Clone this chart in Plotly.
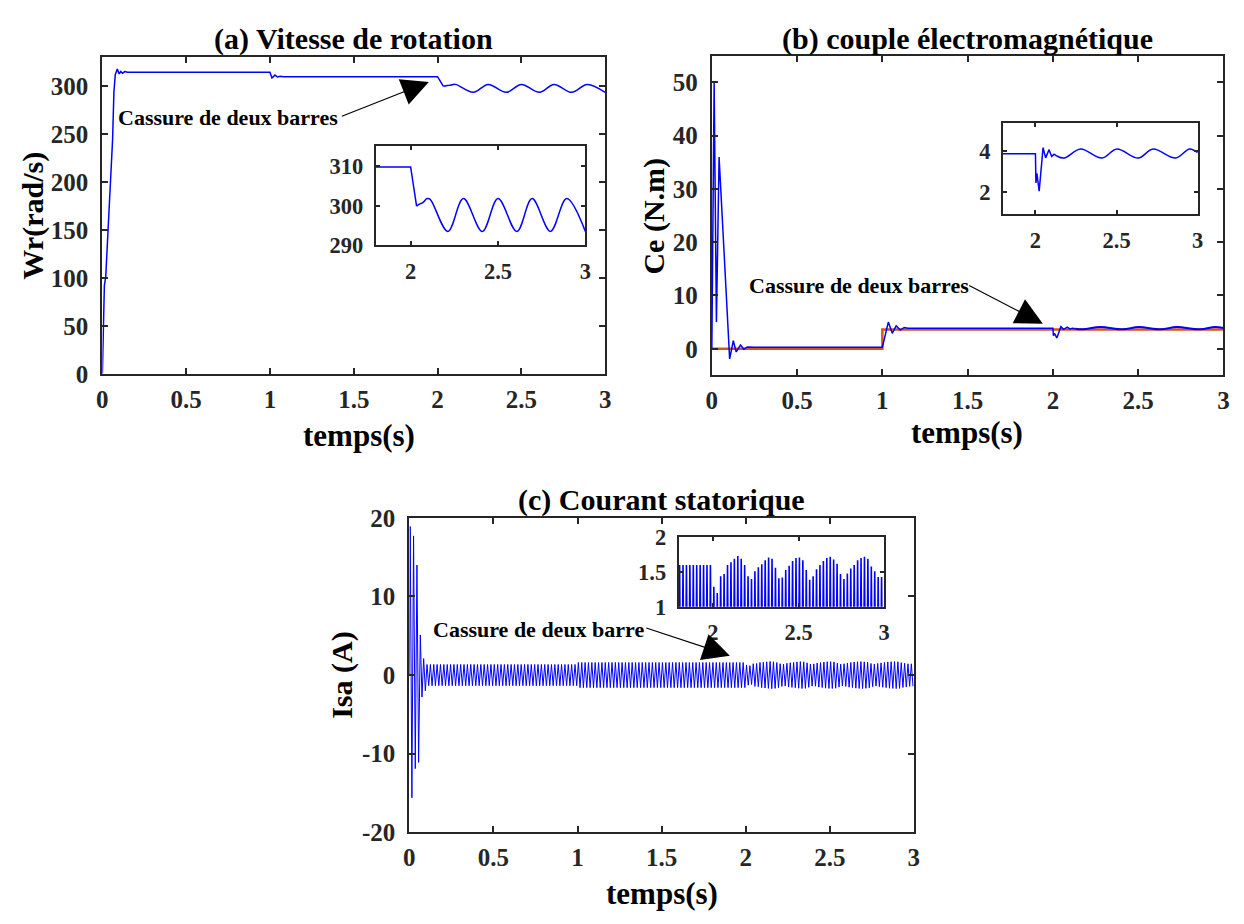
import numpy as np
import plotly.graph_objects as go

# ---------------- data ----------------
# (a) rotor speed Wr (rad/s) versus time (s)
speed_t = [0, 0.006, 0.012, 0.02, 0.035, 0.051, 0.061, 0.069, 0.077, 0.089,
           0.1, 0.11, 0.12, 0.134, 0.15, 0.2, 1.0, 1.012, 1.03, 1.045,
           1.06, 1.08, 2.0, 2.034, 2.05, 2.07, 2.094, 2.112, 2.213, 2.302,
           2.41, 2.5, 2.608, 2.695, 2.80, 2.893, 3.0]
speed_w = [0, 48, 92, 101, 150, 200, 244, 294, 312, 317.9,
           312.8, 315.3, 313.5, 315.2, 314.5, 314.5, 314.5, 308.5, 311.5, 309.5,
           310.2, 309.8, 309.8, 299.9, 300.4, 300.8, 301.8, 301.6, 293.5, 301.8,
           293.5, 301.8, 293.5, 301.8, 293.5, 301.8, 293.5]

# (b) electromagnetic torque Ce (N.m) and load torque Cr
ce_t = [0, 0.0136, 0.027, 0.0426, 0.1045, 0.126, 0.143, 0.168, 0.188, 0.207,
        0.25, 1.0, 1.035, 1.058, 1.081, 1.105, 1.128, 1.15, 2.0, 2.003,
        2.009, 2.023, 2.047, 2.063, 2.084, 2.1, 2.115, 2.132, 2.177, 2.278,
        2.41, 2.502, 2.633, 2.725, 2.864, 2.95, 3.0]
ce_v = [0, 50, 5, 36, -1.9, 1.5, -0.6, 0.7, -0.1, 0.35,
        0.3, 0.3, 5.0, 2.9, 4.3, 3.5, 4.0, 3.85, 3.85, 2.43,
        2.9, 2.03, 4.15, 3.65, 4.05, 3.72, 3.83, 3.74, 3.64, 4.08,
        3.64, 4.08, 3.64, 4.08, 3.64, 4.08, 3.9]
cr_t = [0, 1.0, 1.0, 3.0]
cr_v = [0, 0, 3.6, 3.6]

# (c) stator current Isa (A): successive half-cycle peaks at 50 Hz
isa_start_peaks = [18.9, -15.6, 17.7, -11.9, 14.0, -11.1, 5.1, -2.8, 2.1, -2.0]
isa_amp_noload = [1.35] * 45          # cycles from 0.1 s to 1 s
isa_amp_load = [1.6] * 50             # cycles from 1 s to 2 s
isa_amp_fault = [1.29, 1.20, 1.44, 1.47, 1.60, 1.64, 1.69, 1.73, 1.69, 1.60,
                 1.44, 1.40, 1.51, 1.57, 1.61, 1.67, 1.71, 1.69, 1.56, 1.41,
                 1.42, 1.53, 1.59, 1.66, 1.70, 1.71, 1.67, 1.53, 1.39, 1.44,
                 1.54, 1.60, 1.66, 1.70, 1.72, 1.68, 1.62, 1.47, 1.40, 1.48,
                 1.55, 1.60, 1.67, 1.70, 1.72, 1.69, 1.58, 1.51, 1.43, 1.43]
half_period = 0.01

x_ticks = [0, 0.5, 1, 1.5, 2, 2.5, 3]
zoom_x_ticks = [2, 2.5, 3]
isa_ticks = [-20, -10, 0, 10, 20]
isa_tick_text = ["-20", "-10", "0", "10", "20"]

# ---------------- derived series ----------------
isa_peaks = list(isa_start_peaks)
for a in isa_amp_noload + isa_amp_load + isa_amp_fault:
    isa_peaks += [a, -a]
isa_t = [0.0] + list(half_period / 2 + half_period * np.arange(len(isa_peaks)))
isa_v = [0.0] + isa_peaks

k_sp = speed_t.index(2.034)
k_ce = ce_t.index(2.132)

# ---------------- styling ----------------
W, H = 1244, 924
FONT = "Liberation Serif"
INK = "#262626"
BLUE = "#0000FF"
RED = "#D95319"


def px(x):
    return x / W


def py(y):
    return 1 - y / H


def axis(dom, rng, tickvals, size=25, ticklen=6, standoff=4, **kw):
    d = dict(domain=dom, range=rng, tickvals=tickvals,
             showline=True, linecolor=INK, linewidth=2, mirror="ticks",
             ticks="inside", ticklen=ticklen, tickwidth=1.5, tickcolor=INK,
             showgrid=False, zeroline=False, fixedrange=True,
             ticklabelstandoff=standoff,
             tickfont=dict(family=FONT, size=size, color=INK, weight="bold"))
    d.update(kw)
    return d


fig = go.Figure()

line_main = dict(color=BLUE, width=1.5)
line_smooth = dict(color=BLUE, width=1.5, shape="spline", smoothing=1)

# (a) speed
fig.add_trace(go.Scatter(x=speed_t[:k_sp + 1], y=speed_w[:k_sp + 1], mode="lines",
                         line=line_main, xaxis="x", yaxis="y"))
fig.add_trace(go.Scatter(x=speed_t[k_sp:], y=speed_w[k_sp:], mode="lines",
                         line=line_smooth, xaxis="x", yaxis="y"))
# (a) zoom
fig.add_trace(go.Scatter(x=speed_t[:k_sp + 1], y=speed_w[:k_sp + 1], mode="lines",
                         line=line_main, xaxis="x4", yaxis="y4"))
fig.add_trace(go.Scatter(x=speed_t[k_sp:], y=speed_w[k_sp:], mode="lines",
                         line=line_smooth, xaxis="x4", yaxis="y4"))

# (b) torque
fig.add_trace(go.Scatter(x=cr_t, y=cr_v, mode="lines",
                         line=dict(color=RED, width=2.5), xaxis="x2", yaxis="y2"))
fig.add_trace(go.Scatter(x=ce_t[:k_ce + 1], y=ce_v[:k_ce + 1], mode="lines",
                         line=line_main, xaxis="x2", yaxis="y2"))
fig.add_trace(go.Scatter(x=ce_t[k_ce:], y=ce_v[k_ce:], mode="lines",
                         line=dict(color=BLUE, width=2, shape="spline", smoothing=1),
                         xaxis="x2", yaxis="y2"))
# (b) zoom
fig.add_trace(go.Scatter(x=ce_t[:k_ce + 1], y=ce_v[:k_ce + 1], mode="lines",
                         line=line_main, xaxis="x5", yaxis="y5"))
fig.add_trace(go.Scatter(x=ce_t[k_ce:], y=ce_v[k_ce:], mode="lines",
                         line=line_smooth, xaxis="x5", yaxis="y5"))

# (c) current
fig.add_trace(go.Scatter(x=isa_t, y=isa_v, mode="lines",
                         line=dict(color=BLUE, width=1), xaxis="x3", yaxis="y3"))
fig.add_trace(go.Scatter(x=isa_t, y=isa_v, mode="lines",
                         line=dict(color=BLUE, width=1.6), xaxis="x6", yaxis="y6"))

fig.update_layout(
    width=W, height=H, showlegend=False,
    margin=dict(l=0, r=0, t=0, b=0),
    paper_bgcolor="white", plot_bgcolor="white",
    xaxis=axis([px(97.3), px(605)], [0, 3], x_ticks, anchor="y", standoff=2),
    yaxis=axis([py(371.7), py(45.7)], [0, 330], [0, 50, 100, 150, 200, 250, 300],
               anchor="x", standoff=7),
    xaxis2=axis([px(712.7), px(1229.3)], [0, 3], x_ticks, anchor="y2", standoff=2),
    yaxis2=axis([py(373.3), py(44)], [-5, 55], [0, 10, 20, 30, 40, 50],
                anchor="x2", standoff=7),
    xaxis3=axis([px(407.3), px(916.7)], [0, 3], x_ticks, anchor="y3", standoff=2),
    yaxis3=axis([py(844), py(520)], [-20, 20], isa_ticks, ticktext=isa_tick_text,
                anchor="x3", standoff=7),
    xaxis4=axis([px(373.3), px(585)], [1.8, 3], zoom_x_ticks, size=22.5, ticklen=4,
                anchor="y4", standoff=5),
    yaxis4=axis([py(239.3), py(137.3)], [290, 315], [290, 300, 310], size=22.5, ticklen=4,
                anchor="x4", standoff=6),
    xaxis5=axis([px(1006.7), px(1203.3)], [1.8, 3], zoom_x_ticks, size=22.5, ticklen=4,
                anchor="y5", standoff=5),
    yaxis5=axis([py(207.3), py(113.3)], [0.9, 5.35], [2, 4], size=22.5, ticklen=4,
                anchor="x5", standoff=6),
    xaxis6=axis([px(679.3), px(886.7)], [1.8, 3], zoom_x_ticks, size=22.5, ticklen=4,
                anchor="y6", standoff=4),
    yaxis6=axis([py(611.7), py(540)], [1, 2], [1, 1.5, 2], size=22.5, ticklen=4,
                anchor="x6", standoff=6),
)

# titles and axis labels
labels = [
    ("(a) Vitesse de rotation", 351, 27, 0, 30),
    ("(b) couple électromagnétique", 971, 27, 0, 30),
    ("(c) Courant statorique", 662, 502, 0, 30),
    ("temps(s)", 356, 435, 0, 31),
    ("temps(s)", 970, 432, 0, 31),
    ("temps(s)", 662, 907, 0, 31),
    ("Wr(rad/s)", 27, 209, -90, 30),
    ("Ce (N.m)", 654, 209, -90, 30),
    ("Isa (A)", 339, 682, -90, 30),
]
for text, x, y, ang, size in labels:
    fig.add_annotation(text=text, x=px(x), y=py(y), xref="paper", yref="paper",
                       showarrow=False, textangle=ang, xanchor="center", yanchor="middle",
                       font=dict(family=FONT, size=size, color="#000000", weight="bold"))

# fault markers: text and arrow in each panel
notes = [
    ("Cassure de deux barres", "x", "y", 0.749, 266.8, 1.42, 268, 1.948, 304.4),
    ("Cassure de deux barres", "x2", "y2", 0.861, 11.82, 1.50, 12.0, 1.941, 4.71),
    ("Cassure de deux barre", "x3", "y3", 0.770, 5.80, 1.40, 6.05, 1.906, 2.47),
]
for text, xr, yr, tx, ty, ax, ay, hx, hy in notes:
    fig.add_annotation(text=text, x=tx, y=ty, xref=xr, yref=yr, showarrow=False,
                       xanchor="center", yanchor="middle",
                       font=dict(family=FONT, size=22, color="#000000", weight="bold"))
    fig.add_annotation(text="", x=hx, y=hy, xref=xr, yref=yr, ax=ax, ay=ay,
                       axref=xr, ayref=yr, showarrow=True, arrowhead=2,
                       arrowsize=4.5, arrowwidth=1.2, arrowcolor="#000000")

fig.write_html("out.html")
